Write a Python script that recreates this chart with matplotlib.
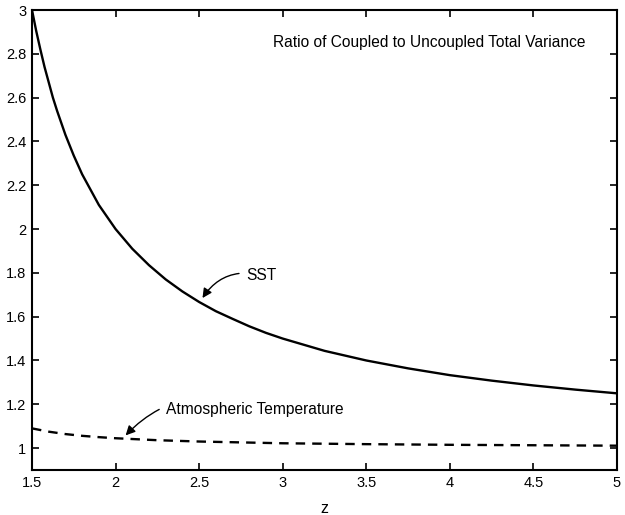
import matplotlib
matplotlib.use("Agg")
import matplotlib.pyplot as plt

plt.rcParams['font.family'] = ['Liberation Sans', 'DejaVu Sans']

# values
z_sst = [1.5, 1.525, 1.55, 1.575, 1.6, 1.625, 1.65, 1.7, 1.75, 1.8, 1.85, 1.9,
         1.95, 2.0, 2.1, 2.2, 2.3, 2.4, 2.5, 2.6, 2.7, 2.8, 2.9, 3.0,
         3.25, 3.5, 3.75, 4.0, 4.25, 4.5, 4.75, 5.0]
sst = [3.0, 2.905, 2.82, 2.74, 2.67, 2.60, 2.54, 2.43, 2.335, 2.25, 2.18, 2.11,
       2.055, 2.0, 1.91, 1.835, 1.77, 1.715, 1.667, 1.625, 1.59, 1.556, 1.526, 1.5,
       1.444, 1.40, 1.364, 1.333, 1.308, 1.286, 1.267, 1.25]

z_atm = [1.5, 1.6, 1.7, 1.8, 1.9, 2.0, 2.25, 2.5, 3.0, 3.5, 4.0, 4.5, 5.0]
atm = [1.09, 1.075, 1.064, 1.056, 1.05, 1.045, 1.036, 1.03, 1.022, 1.018,
       1.015, 1.013, 1.011]

xticks = [1.5, 2, 2.5, 3, 3.5, 4, 4.5, 5]
xticklabels = ["1.5", "2", "2.5", "3", "3.5", "4", "4.5", "5"]
yticks = [1, 1.2, 1.4, 1.6, 1.8, 2, 2.2, 2.4, 2.6, 2.8, 3]
yticklabels = ["1", "1.2", "1.4", "1.6", "1.8", "2", "2.2", "2.4", "2.6", "2.8", "3"]

fig = plt.figure(figsize=(6.25, 5.15), dpi=100)
ax = fig.add_axes([32 / 625, 1 - 470 / 515, 585 / 625, 460 / 515])

ax.plot(z_sst, sst, color="black", lw=1.7)
ax.plot(z_atm, atm, color="black", lw=1.7, dashes=(4, 3))

ax.set_xlim(1.5, 5)
ax.set_ylim(0.9, 3)
ax.set_xticks(xticks)
ax.set_xticklabels(xticklabels)
ax.set_yticks(yticks)
ax.set_yticklabels(yticklabels)
ax.tick_params(direction="in", top=True, right=True, length=5, width=1.2,
               labelsize=10.5, pad=4)
for s in ax.spines.values():
    s.set_linewidth(1.5)

ax.set_xlabel("z", fontsize=11.5, labelpad=8)

ax.text(2.94, 2.85, "Ratio of Coupled to Uncoupled Total Variance",
        fontsize=11.2, va="center", ha="left")

ax.annotate("SST", xy=(2.52, 1.685), xytext=(2.78, 1.79),
            fontsize=11.2, va="center", ha="left",
            arrowprops=dict(arrowstyle="-|>", color="black", lw=1,
                            connectionstyle="arc3,rad=0.35",
                            shrinkA=3, shrinkB=0, mutation_scale=14))

ax.annotate("Atmospheric Temperature", xy=(2.06, 1.058), xytext=(2.3, 1.175),
            fontsize=11.2, va="center", ha="left",
            arrowprops=dict(arrowstyle="-|>", color="black", lw=1,
                            connectionstyle="arc3,rad=0.35",
                            shrinkA=3, shrinkB=0, mutation_scale=14))

fig.savefig("out.png", dpi=100)
